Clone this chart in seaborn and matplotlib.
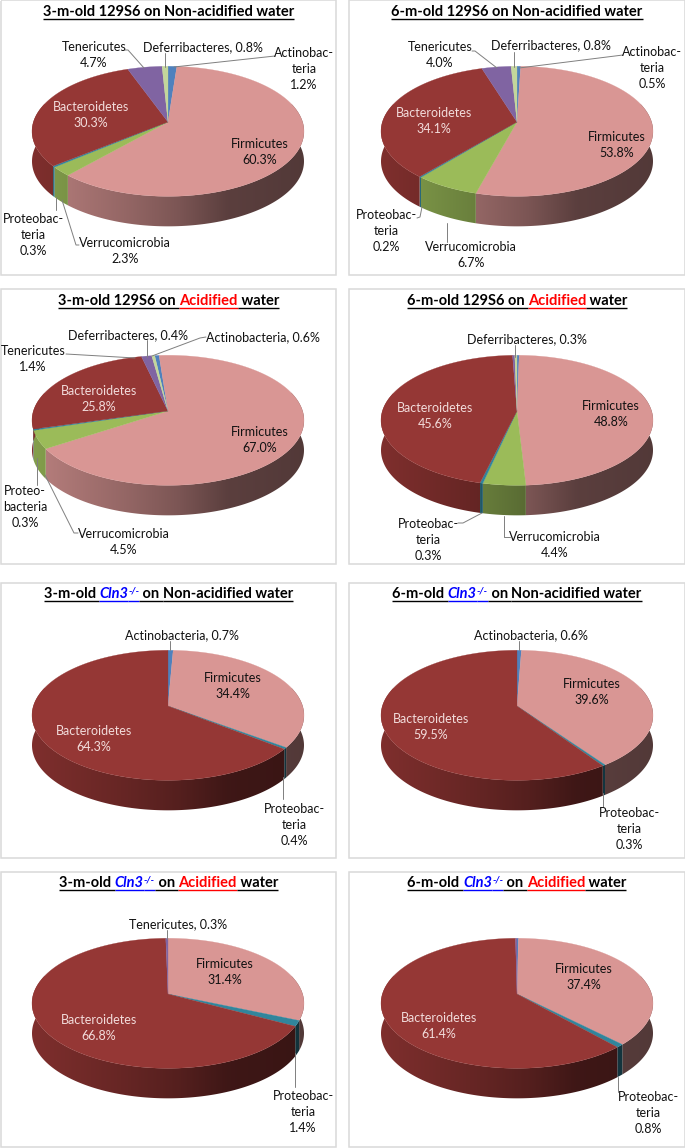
import numpy as np
import seaborn as sns
import matplotlib.pyplot as plt
from matplotlib.patches import Rectangle
from matplotlib.path import Path
from matplotlib.transforms import Affine2D, Transform

# percent per panel: 3m/6m 129S6, non-acidified then acidified, then the same for Cln3
firmicutes = [60.3, 53.8, 67.0, 48.8, 34.4, 39.6, 31.4, 37.4]
verrucomicrobia = [2.3, 6.7, 4.5, 4.4, 0, 0, 0, 0]
proteobacteria = [0.3, 0.2, 0.3, 0.3, 0.4, 0.3, 1.4, 0.8]
bacteroidetes = [30.3, 34.1, 25.8, 45.6, 64.3, 59.5, 66.8, 61.4]
tenericutes = [4.7, 4.0, 1.4, 0.3, 0, 0, 0.3, 0.2]
deferribacteres = [0.8, 0.8, 0.4, 0.3, 0, 0, 0, 0]
actinobacteria = [1.2, 0.5, 0.6, 0.3, 0.7, 0.6, 0, 0.2]

ages = ["3-m-old", "6-m-old"]
hex_colors = ["#4F81BD", "#D99694", "#9BBB59", "#31859C", "#953735", "#8064A2", "#C3D69B"]
start_angles = [90, 90, 96.5, 90, 90, 90, 90, 90]

sns.set_theme(style="white")
plt.rcParams['font.family'] = ['Lato', 'DejaVu Sans']
palette = sns.color_palette(hex_colors)

RX, RY, PERSP, DEPTH = 134.6, 63.7, 0.143, 30
LABEL = 9.0
TITLE = 10.5
GREY = "#7F7F7F"


class Tilt(Transform):
    # unit pie -> pixels, back of the disc a bit smaller like excel 3d pies
    input_dims = 2
    output_dims = 2
    is_separable = False
    has_inverse = False

    def __init__(self, cx, cy):
        super().__init__()
        self.cx = cx
        self.cy = cy

    def transform_non_affine(self, values):
        values = np.asarray(values, dtype=float)
        s = 1 / (1 + PERSP * values[:, 1])
        return np.column_stack([self.cx + RX * values[:, 0] * s, self.cy - RY * values[:, 1] * s])

    def transform_path_non_affine(self, path):
        # flatten at a big scale, at unit size the arc gets only a few segments
        poly = path.transformed(Affine2D().scale(1000)).to_polygons(closed_only=False)[0] / 1000
        return Path(self.transform_non_affine(poly))


def shade(u):
    return np.interp(u, [0, 0.35, 0.54, 0.72, 1], [0.85, 0.68, 0.57, 0.42, 0.38])


def draw_pie(ax, values, cx, cy, start):
    wedges, _ = ax.pie(values, colors=palette, startangle=start, counterclock=False, frame=True)
    tilt = Tilt(cx, cy)
    ramp = shade(np.linspace(0, 1, 272))
    for wedge, color in zip(wedges, palette):
        if wedge.theta2 - wedge.theta1 <= 0:
            continue
        # side wall: left to right gradient clipped to the wall outline
        th = np.radians(np.linspace(wedge.theta1, wedge.theta2, max(3, int(wedge.theta2 - wedge.theta1) * 2 + 2)))
        th = th[np.sin(th) < 0.3]
        if len(th) > 1:
            rim = tilt.transform_non_affine(np.column_stack([np.cos(th), np.sin(th)]))
            outline = np.vstack([rim, (rim + [0, DEPTH])[::-1]])
            img = ramp[None, :, None] * np.array(color)[None, None, :]
            im = ax.imshow(img, extent=(cx - 136, cx + 136, cy + 110, cy - 70), aspect="auto",
                           interpolation="bilinear", vmin=0, vmax=1, zorder=2)
            im.set_clip_path(Path(np.vstack([outline, outline[:1]]), closed=True), ax.transData)
        wedge.set_transform(tilt + ax.transData)
        wedge.set(zorder=3, edgecolor=color, linewidth=0.2, clip_on=False)


def text_width(ax, renderer, s, **kw):
    t = ax.text(0, 0, s + "|", **kw)
    bar = ax.text(0, 0, "|", **kw)
    w = t.get_window_extent(renderer).width - bar.get_window_extent(renderer).width
    t.remove()
    bar.remove()
    return w


def draw_title(ax, renderer, pieces, cx, cy):
    widths = []
    for s, color, style, size in pieces:
        widths.append(text_width(ax, renderer, s, fontsize=size, fontweight="bold", fontstyle=style))
    x = cx - sum(widths) / 2
    for (s, color, style, size), w in zip(pieces, widths):
        off = -3 if size < TITLE else 0
        ax.text(x, cy + off, s, color=color, fontsize=size, fontweight="bold", fontstyle=style,
                ha="left", va="center", zorder=5)
        ax.plot([x, x + w], [cy + 7, cy + 7], color=color, lw=1, solid_capstyle="butt", zorder=5)
        x += w


def title_pieces(i):
    age = ages[i % 2]
    out = []
    if i < 4:
        out.append((age + " 129S6 on ", "black", "normal", TITLE))
    else:
        out.append((age + " ", "black", "normal", TITLE))
        out.append(("Cln3", "#0000FF", "italic", TITLE))
        out.append(("-/-", "#0000FF", "italic", TITLE - 3.5))
        out.append((" on ", "black", "normal", TITLE))
    if i in (2, 3, 6, 7):
        out.append(("Acidified", "#FF0000", "normal", TITLE))
        out.append((" water", "black", "normal", TITLE))
    else:
        out.append(("Non-acidified water", "black", "normal", TITLE))
    return out


# panel layout in pixels
frames = [(1, 0, 336, 275), (349, 0, 685, 275), (1, 289, 336, 564), (349, 289, 685, 564),
          (1, 583, 336, 858), (349, 583, 685, 858), (1, 872, 336, 1147), (349, 872, 685, 1147)]
centers = [(168, 122), (517, 122), (168, 411), (517, 411), (168, 706), (517, 706), (168, 994), (517, 994)]
title_y = [12, 12, 301, 301, 594, 594, 883, 883]

labels = [
    [("Tenericutes\n4.7%", 94, 55), ("Deferribacteres, 0.8%", 203, 47), ("Actinobac-\nteria\n1.2%", 304, 69),
     ("Bacteroidetes\n30.3%", 91, 115), ("Firmicutes\n60.3%", 260, 152),
     ("Proteobac-\nteria\n0.3%", 33, 235), ("Verrucomicrobia\n2.3%", 125, 251)],
    [("Tenericutes\n4.0%", 440, 55), ("Deferribacteres, 0.8%", 551, 45), ("Actinobac-\nteria\n0.5%", 652, 68),
     ("Bacteroidetes\n34.1%", 434, 121), ("Firmicutes\n53.8%", 617, 145),
     ("Proteobac-\nteria\n0.2%", 386, 231), ("Verrucomicrobia\n6.7%", 471, 255)],
    [("Tenericutes\n1.4%", 33, 359), ("Deferribacteres, 0.4%", 128, 335), ("Actinobacteria, 0.6%", 263, 337),
     ("Bacteroidetes\n25.8%", 99, 399), ("Firmicutes\n67.0%", 260, 440),
     ("Proteo-\nbacteria\n0.3%", 25, 507), ("Verrucomicrobia\n4.5%", 124, 542)],
    [("Deferribacteres, 0.3%", 527, 339), ("Bacteroidetes\n45.6%", 435, 416), ("Firmicutes\n48.8%", 611, 414),
     ("Proteobac-\nteria\n0.3%", 428, 540), ("Verrucomicrobia\n4.4%", 555, 545)],
    [("Actinobacteria, 0.7%", 182, 635), ("Firmicutes\n34.4%", 233, 686), ("Bacteroidetes\n64.3%", 94, 739),
     ("Proteobac-\nteria\n0.4%", 294, 825)],
    [("Actinobacteria, 0.6%", 531, 635), ("Firmicutes\n39.6%", 592, 692), ("Bacteroidetes\n59.5%", 431, 727),
     ("Proteobac-\nteria\n0.3%", 629, 829)],
    [("Tenericutes, 0.3%", 178, 924), ("Firmicutes\n31.4%", 225, 972), ("Bacteroidetes\n66.8%", 99, 1028),
     ("Proteobac-\nteria\n1.4%", 303, 1112)],
    [("Firmicutes\n37.4%", 584, 977), ("Bacteroidetes\n61.4%", 439, 1026), ("Proteobac-\nteria\n0.8%", 648, 1113)],
]

leaders = [
    [[(125, 50), (128, 50), (144, 68)], [(165, 53), (165, 67)], [(275, 56), (174, 67)],
     [(56, 197), (56, 210)], [(62, 200), (76, 245), (79, 245)]],
    [[(472, 51), (475, 51), (497, 68)], [(514, 52), (514, 67)], [(623, 55), (519, 68)],
     [(417, 218), (420, 217), (422, 207)], [(447, 223), (447, 242)]],
    [[(66, 354), (135, 358)], [(147, 340), (147, 357)], [(206, 337), (200, 338), (152, 356)],
     [(37, 458), (37, 485)], [(45, 475), (74, 533), (78, 533)]],
    [[(515, 345), (515, 357)], [(458, 523), (463, 523), (482, 513)], [(510, 537), (504, 537), (504, 516)]],
    [[(170, 641), (170, 650)], [(283, 777), (283, 799)]],
    [[(519, 641), (519, 650)], [(603, 793), (603, 807)]],
    [[(167, 930), (167, 939)], [(295, 1053), (295, 1087)]],
    [[(618, 1077), (618, 1092)]],
]

fig = plt.figure(figsize=(6.85, 11.48), dpi=100, facecolor="white")
ax = fig.add_axes([0, 0, 1, 1])
renderer = fig.canvas.get_renderer()

for i in range(8):
    x0, y0, x1, y1 = frames[i]
    ax.add_patch(Rectangle((x0, y0), x1 - x0, y1 - y0, facecolor="white", edgecolor="#D9D9D9", lw=1.1, zorder=1))
    values = [actinobacteria[i], firmicutes[i], verrucomicrobia[i], proteobacteria[i],
              bacteroidetes[i], tenericutes[i], deferribacteres[i]]
    draw_pie(ax, values, centers[i][0], centers[i][1], start_angles[i])
    for s, x, y in labels[i]:
        color = "#F2DCDB" if s.startswith("Bacteroidetes") else "#111111"
        ax.text(x, y, s, ha="center", va="center", fontsize=LABEL, color=color, linespacing=1.42, zorder=6)
    for pts in leaders[i]:
        ax.plot(*zip(*pts), color=GREY, lw=0.7, zorder=4)

ax.set_aspect("auto")
ax.set_xlim(0, 685)
ax.set_ylim(1148, 0)
ax.set_xticks([])
ax.set_yticks([])
ax.set_frame_on(False)

for i in range(8):
    cx = (frames[i][0] + frames[i][2]) / 2
    draw_title(ax, renderer, title_pieces(i), cx, title_y[i])

fig.savefig("out.png", dpi=100)
